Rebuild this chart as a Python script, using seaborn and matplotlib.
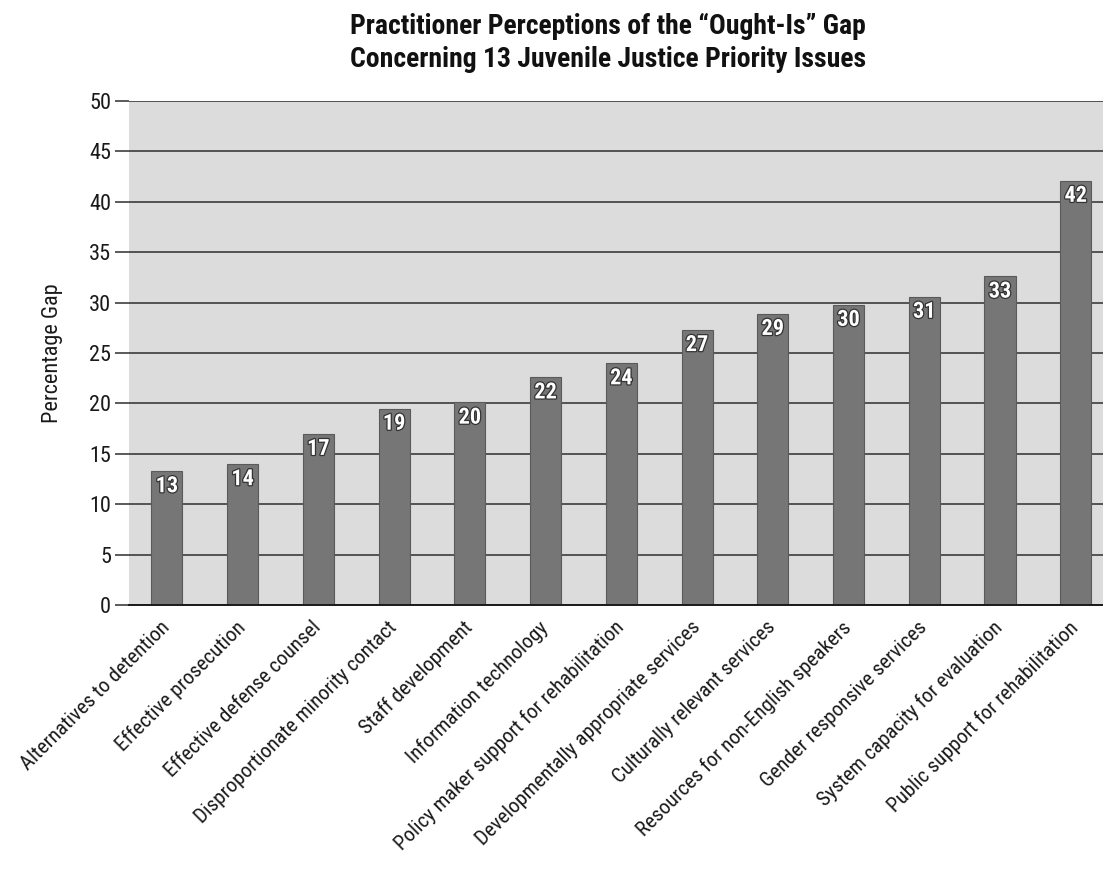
import matplotlib
matplotlib.use("Agg")
import matplotlib.pyplot as plt
import matplotlib.patheffects as pe
from matplotlib import font_manager
import seaborn as sns
import pandas as pd

categories = [
    "Alternatives to detention",
    "Effective prosecution",
    "Effective defense counsel",
    "Disproportionate minority contact",
    "Staff development",
    "Information technology",
    "Policy maker support for rehabilitation",
    "Developmentally appropriate services",
    "Culturally relevant services",
    "Resources for non-English speakers",
    "Gender responsive services",
    "System capacity for evaluation",
    "Public support for rehabilitation",
]
gap_values = [13.3, 14.0, 17.0, 19.5, 20.1, 22.6, 24.0, 27.3, 28.9, 29.8, 30.6, 32.6, 42.1]
value_labels = ["13", "14", "17", "19", "20", "22", "24", "27", "29", "30", "31", "33", "42"]
y_ticks = [0, 5, 10, 15, 20, 25, 30, 35, 40, 45, 50]

title_lines = ["Practitioner Perceptions of the \u201cOught-Is\u201d Gap",
               "Concerning 13 Juvenile Justice Priority Issues"]
y_label = "Percentage Gap"

sns.set_theme(style="white")
names = {f.name for f in font_manager.fontManager.ttflist}
if "Liberation Sans Narrow" in names:
    narrow = "Liberation Sans Narrow"
elif "Roboto Condensed" in names:
    narrow = "Roboto Condensed"
else:
    narrow = "Roboto"
plt.rcParams["font.family"] = [narrow, "DejaVu Sans"]

df = pd.DataFrame({"issue": categories, "gap": gap_values})

fig = plt.figure(figsize=(11.03, 8.86), dpi=100)
ax = fig.add_axes([0.117, 0.317, 0.883, 0.569])
ax.set_facecolor("#dcdcdc")

sns.barplot(data=df, x="issue", y="gap", order=categories, color="#767676",
            saturation=1, width=0.41, edgecolor="#5a5a5a", linewidth=0.8, ax=ax)

ax.set_axisbelow(True)
ax.yaxis.grid(True, color="#2e2e2e", linewidth=1.1)
ax.xaxis.grid(False)
ax.set_ylim(0, 50)
ax.set_yticks(y_ticks)
ax.set_xlim(-0.5, 12.36)

for s in ["top", "right", "left"]:
    ax.spines[s].set_visible(False)
ax.spines["bottom"].set_color("#1a1a1a")
ax.spines["bottom"].set_linewidth(1.4)

ax.tick_params(axis="y", which="both", left=True, length=10, width=1.1,
               color="#2e2e2e", pad=3, labelsize=16, labelcolor="#1a1a1a")
ax.tick_params(axis="x", length=0, pad=14, labelsize=15, labelcolor="#1a1a1a")
for lab in ax.get_xticklabels():
    lab.set_rotation(45)
    lab.set_ha("right")
    lab.set_va("center")
    lab.set_rotation_mode("anchor")

ax.set_xlabel("")
ax.set_ylabel(y_label, fontsize=16, color="#1a1a1a")
ax.yaxis.set_label_coords(-0.068, 0.5)

for patch, txt in zip(ax.patches, value_labels):
    cx = patch.get_x() + patch.get_width() / 2
    top = patch.get_height()
    ax.annotate(txt, (cx, top), xytext=(0, -3), textcoords="offset points",
                ha="center", va="top", fontsize=16, fontweight="bold", color="white",
                path_effects=[pe.withStroke(linewidth=1.8, foreground="#333333")])

fig.text(0.551, 1 - 34 / 886, title_lines[0], ha="center", va="baseline",
         fontsize=20, fontweight="bold", color="#111111")
fig.text(0.551, 1 - 67 / 886, title_lines[1], ha="center", va="baseline",
         fontsize=20, fontweight="bold", color="#111111")

fig.savefig("out.png", dpi=100, facecolor="white")
